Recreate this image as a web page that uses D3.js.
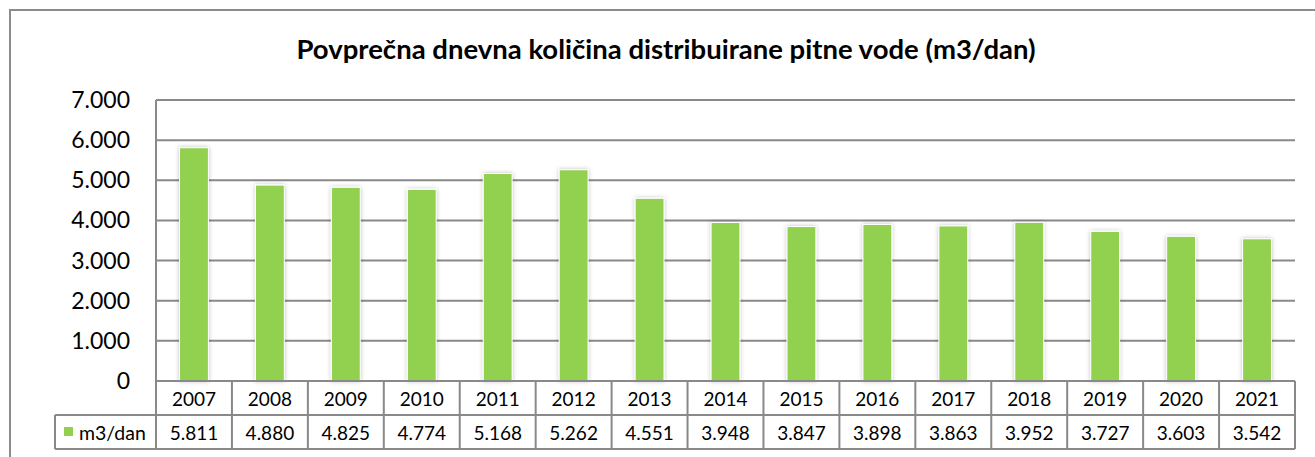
<!DOCTYPE html>
<html><head><meta charset="utf-8">
<script src="https://cdn.jsdelivr.net/npm/d3@7"></script>
<style>body{margin:0;background:#fff}svg{display:block}</style>
</head><body>
<svg id="c" width="1315" height="457"></svg>
<script>
const categories = ["2007","2008","2009","2010","2011","2012","2013","2014","2015","2016","2017","2018","2019","2020","2021"];
const values = [5811,4880,4825,4774,5168,5262,4551,3948,3847,3898,3863,3952,3727,3603,3542];
const yTicks = [0,1000,2000,3000,4000,5000,6000,7000];
const seriesName = "m3/dan";
const title = "Povprečna dnevna količina distribuirane pitne vode (m3/dan)";

const font = "Lato, 'Open Sans', sans-serif";
const loc = d3.formatLocale({decimal:",", thousands:".", grouping:[3], currency:["",""]});
const fmt = loc.format(",d");
const svg = d3.select("#c");
const L = 156, R = 1295, T = 100, B = 381;
const rowH = 34;
const grid = "#898989";

const defs = svg.append("defs");
const f = defs.append("filter").attr("id","sh").attr("x","-50%").attr("y","-10%").attr("width","200%").attr("height","120%");
f.append("feDropShadow").attr("dx",0).attr("dy",0).attr("stdDeviation",2.2).attr("flood-color","#000").attr("flood-opacity",0.25);

// outer frame
svg.append("rect").attr("x",10).attr("y",10).attr("width",1320).attr("height",460)
  .attr("fill","none").attr("stroke","#8c8c8c").attr("stroke-width",2);

svg.append("text").attr("x",666).attr("y",59).attr("text-anchor","middle")
  .attr("font-family",font).attr("font-weight","bold").attr("font-size",27.5).text(title);

const x = d3.scaleBand().domain(categories).range([L,R]).paddingInner(0.62).paddingOuter(0.31);
const xb = d3.scaleBand().domain(categories).range([L,R]);
const y = d3.scaleLinear().domain([0,7000]).range([B,T]);

// gridlines
svg.append("g").selectAll("line").data(yTicks).join("line")
  .attr("x1",L).attr("x2",R).attr("y1",d=>y(d)).attr("y2",d=>y(d))
  .attr("stroke",grid).attr("stroke-width",2);

// y labels
svg.append("g").selectAll("text").data(yTicks).join("text")
  .attr("x",130).attr("y",d=>y(d)).attr("dy","0.35em").attr("text-anchor","end")
  .attr("font-family",font).attr("font-size",23).text(d=>fmt(d));

// bars
svg.append("g").selectAll("rect").data(values).join("rect")
  .attr("x",(d,i)=>x(categories[i])).attr("width",x.bandwidth())
  .attr("y",d=>y(d)).attr("height",d=>y(0)-y(d))
  .attr("fill","#92d050").attr("stroke","#ffffff").attr("stroke-width",1).attr("filter","url(#sh)");

// re-draw zero line over bars
svg.append("line").attr("x1",L).attr("x2",R).attr("y1",B).attr("y2",B).attr("stroke",grid).attr("stroke-width",2);

// table
const tb = svg.append("g").attr("stroke",grid).attr("stroke-width",2).attr("fill","none");
tb.append("line").attr("x1",L).attr("x2",L).attr("y1",T).attr("y2",B+2*rowH);
tb.append("line").attr("x1",55).attr("x2",R).attr("y1",B+rowH).attr("y2",B+rowH);
tb.append("line").attr("x1",55).attr("x2",R).attr("y1",B+2*rowH).attr("y2",B+2*rowH);
tb.append("line").attr("x1",55).attr("x2",55).attr("y1",B+rowH).attr("y2",B+2*rowH);
tb.selectAll("line.v").data(categories).join("line").attr("class","v")
  .attr("x1",d=>xb(d)+xb.bandwidth()).attr("x2",d=>xb(d)+xb.bandwidth())
  .attr("y1",B).attr("y2",B+2*rowH);

svg.append("g").selectAll("text").data(categories).join("text")
  .attr("x",d=>xb(d)+xb.bandwidth()/2).attr("y",B+rowH/2+1).attr("dy","0.35em")
  .attr("text-anchor","middle").attr("font-family",font).attr("font-size",19).text(d=>d);
svg.append("g").selectAll("text").data(values).join("text")
  .attr("x",(d,i)=>xb(categories[i])+xb.bandwidth()/2).attr("y",B+rowH*1.5+1).attr("dy","0.35em")
  .attr("text-anchor","middle").attr("font-family",font).attr("font-size",19).text(d=>fmt(d));

svg.append("rect").attr("x",64).attr("y",427).attr("width",9).attr("height",9).attr("fill","#92d050");
svg.append("text").attr("x",79).attr("y",B+rowH*1.5+1).attr("dy","0.35em")
  .attr("font-family",font).attr("font-size",19.5).text(seriesName);
</script>
</body></html>
